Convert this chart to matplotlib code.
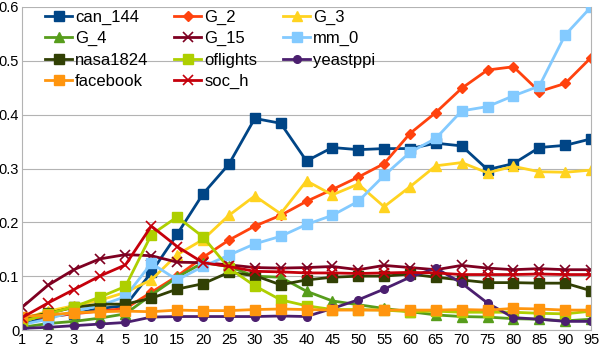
import matplotlib
matplotlib.use("Agg")
import matplotlib.pyplot as plt

plt.rcParams['font.family'] = ['Liberation Sans', 'DejaVu Sans']

x_labels = ["1", "2", "3", "4", "5", "10", "15", "20", "25", "30", "35", "40",
            "45", "50", "55", "60", "65", "70", "75", "80", "85", "90", "95"]

can_144 = [0.010, 0.025, 0.030, 0.040, 0.045, 0.107, 0.178, 0.253, 0.308, 0.393, 0.384, 0.314,
           0.339, 0.335, 0.337, 0.337, 0.347, 0.342, 0.298, 0.309, 0.339, 0.343, 0.355]
G_2 = [0.020, 0.025, 0.030, 0.035, 0.040, 0.070, 0.100, 0.135, 0.167, 0.193, 0.213, 0.239,
       0.261, 0.284, 0.309, 0.365, 0.404, 0.449, 0.483, 0.489, 0.443, 0.458, 0.506]
G_3 = [0.020, 0.035, 0.045, 0.055, 0.070, 0.093, 0.140, 0.168, 0.213, 0.249, 0.216, 0.277,
       0.251, 0.271, 0.229, 0.266, 0.305, 0.311, 0.292, 0.304, 0.294, 0.293, 0.297]
G_4 = [0.005, 0.012, 0.016, 0.022, 0.030, 0.065, 0.098, 0.125, 0.118, 0.100, 0.098, 0.072,
       0.054, 0.047, 0.040, 0.034, 0.028, 0.025, 0.024, 0.021, 0.020, 0.017, 0.020]
G_15 = [0.042, 0.083, 0.112, 0.132, 0.140, 0.138, 0.126, 0.125, 0.121, 0.116, 0.115, 0.116,
        0.118, 0.112, 0.120, 0.116, 0.112, 0.120, 0.115, 0.112, 0.114, 0.112, 0.112]
mm_0 = [0.010, 0.020, 0.035, 0.045, 0.062, 0.124, 0.093, 0.118, 0.139, 0.160, 0.174, 0.196,
        0.213, 0.239, 0.287, 0.330, 0.356, 0.407, 0.415, 0.435, 0.453, 0.548, 0.600]
nasa1824 = [0.022, 0.031, 0.042, 0.048, 0.048, 0.059, 0.076, 0.086, 0.107, 0.101, 0.084, 0.093,
            0.098, 0.100, 0.100, 0.104, 0.098, 0.093, 0.088, 0.088, 0.087, 0.087, 0.073]
oflights = [0.015, 0.030, 0.043, 0.061, 0.081, 0.177, 0.210, 0.173, 0.115, 0.082, 0.056, 0.045,
            0.038, 0.038, 0.037, 0.034, 0.035, 0.033, 0.033, 0.033, 0.031, 0.030, 0.035]
yeastppi = [0.003, 0.005, 0.008, 0.011, 0.014, 0.024, 0.025, 0.025, 0.025, 0.025, 0.026, 0.025,
            0.040, 0.056, 0.076, 0.098, 0.115, 0.087, 0.050, 0.023, 0.020, 0.016, 0.016]
facebook = [0.025, 0.028, 0.032, 0.034, 0.035, 0.034, 0.037, 0.036, 0.036, 0.038, 0.039, 0.038,
            0.037, 0.037, 0.037, 0.037, 0.037, 0.038, 0.037, 0.040, 0.039, 0.037, 0.037]
soc_h = [0.023, 0.050, 0.075, 0.100, 0.121, 0.193, 0.155, 0.125, 0.118, 0.109, 0.108, 0.106,
         0.106, 0.105, 0.106, 0.107, 0.106, 0.103, 0.103, 0.103, 0.104, 0.103, 0.103]

series = [
    ("can_144", can_144, "#004586", "s"),
    ("G_2", G_2, "#ff420e", "D"),
    ("G_3", G_3, "#ffd320", "^"),
    ("G_4", G_4, "#579d1c", "^"),
    ("G_15", G_15, "#7e0021", "x"),
    ("mm_0", mm_0, "#83caff", "s"),
    ("nasa1824", nasa1824, "#314004", "s"),
    ("oflights", oflights, "#aecf00", "s"),
    ("yeastppi", yeastppi, "#4b1f6f", "o"),
    ("facebook", facebook, "#ff950e", "s"),
    ("soc_h", soc_h, "#c5000b", "x"),
]

fig = plt.figure(figsize=(6, 3.5), dpi=100)
ax = fig.add_axes([22 / 600, 20 / 350, 569 / 600, 323 / 350])

xs = list(range(len(x_labels)))
lines = {}
for name, vals, col, mk in series:
    if mk == "x":
        ln, = ax.plot(xs, vals, color=col, lw=2, marker=mk, ms=7, mew=1.2, label=name)
    elif mk in ("D", "o"):
        ln, = ax.plot(xs, vals, color=col, lw=2, marker=mk, ms=5.5, label=name)
    else:
        ln, = ax.plot(xs, vals, color=col, lw=2, marker=mk, ms=6.5, label=name)
    lines[name] = ln

ax.set_xlim(0, len(x_labels) - 1)
ax.set_ylim(0, 0.6)
ax.set_xticks(xs)
ax.set_xticklabels(x_labels)
ax.set_yticks([0, 0.1, 0.2, 0.3, 0.4, 0.5, 0.6])
ax.set_yticklabels(["0", "0.1", "0.2", "0.3", "0.4", "0.5", "0.6"])
ax.tick_params(labelsize=10.5, length=0, pad=2)
ax.grid(axis='y', color='#b3b3b3', lw=0.8)
ax.set_axisbelow(True)
ax.spines["top"].set_visible(False)
for s in ["left", "right", "bottom"]:
    ax.spines[s].set_color('#b3b3b3')
    ax.spines[s].set_linewidth(0.8)

# legend is filled row by row in the reference
names = [s[0] for s in series]
ncol = 3
nrow = 4
order = []
for c in range(ncol):
    for r in range(nrow):
        i = r * ncol + c
        if i < len(names):
            order.append(names[i])
ax.legend([lines[n] for n in order], order, ncol=ncol, loc='upper left',
          bbox_to_anchor=(0.029, 1.012), frameon=False, fontsize=12,
          handlelength=1.6, handletextpad=0.2, columnspacing=1.55,
          labelspacing=0.38, borderaxespad=0.0, borderpad=0.4)

fig.savefig("out.png", dpi=100)
